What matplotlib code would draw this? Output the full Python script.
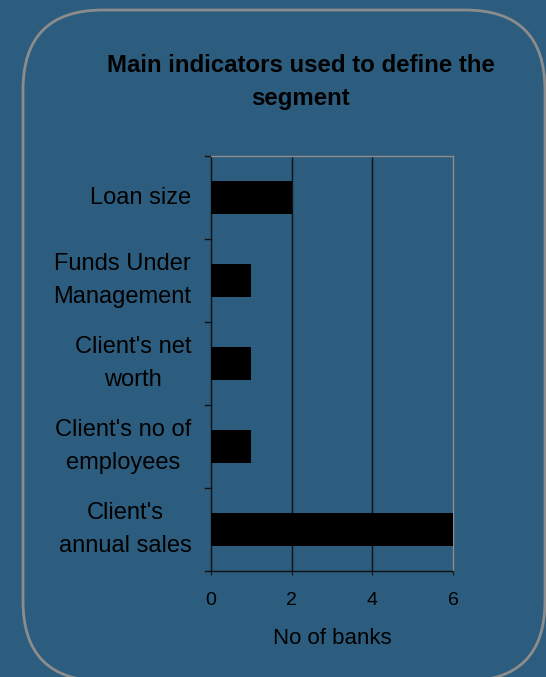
import matplotlib
matplotlib.use("Agg")
import matplotlib.pyplot as plt
from matplotlib.patches import FancyBboxPatch

plt.rcParams["font.family"] = ["Liberation Sans", "DejaVu Sans"]

# number of banks citing each indicator (top to bottom)
categories = ["Loan size", "Funds Under\nManagement", "Client's net\nworth",
              "Client's no of\nemployees", "Client's\nannual sales"]
n_banks = [2, 1, 1, 1, 6]
x_ticks = [0, 2, 4, 6]

BG = "#2d5d7e"
W, H = 546, 677
DPI = 100

fig = plt.figure(figsize=(W / DPI, H / DPI), dpi=DPI, facecolor=BG)

# rounded panel border, laid out in inches so the corners stay circular
px = 1 / DPI
panel = FancyBboxPatch((23 * px, (H - 681) * px), (545 - 23) * px, (681 - 10) * px,
                       boxstyle="round,pad=0,rounding_size=0.8",
                       transform=fig.dpi_scale_trans, facecolor="none",
                       edgecolor="#8c8c8c", lw=2)
fig.patches.append(panel)

ax = fig.add_axes([211 / W, 1 - 571 / H, (453 - 211) / W, (571 - 156) / H])
ax.set_facecolor(BG)

ypos = list(range(len(categories)))
ax.barh(ypos, n_banks, height=0.4, color="black", zorder=3)
ax.set_ylim(len(categories) - 0.5, -0.5)
ax.set_xlim(0, 6)

ax.set_xticks(x_ticks)
ax.set_xticklabels([str(t) for t in x_ticks], fontsize=14)
ax.set_yticks(ypos)
ax.set_yticklabels(categories, fontsize=17, linespacing=1.6, multialignment="center", va="center")
ax.tick_params(axis="y", length=0, pad=14)
ax.tick_params(axis="x", length=6, direction="inout", pad=12, color="#111111")

# category separators on the left spine
for b in [y - 0.5 for y in range(len(categories) + 1)]:
    ax.plot([-0.15, 0], [b, b], color="#111111", lw=1, clip_on=False)

for x in x_ticks[1:-1]:
    ax.axvline(x, color="#111111", lw=1, zorder=1)

ax.spines["top"].set_color("#8c8c8c")
ax.spines["right"].set_color("#8c8c8c")
ax.spines["left"].set_color("#111111")
ax.spines["bottom"].set_color("#111111")
for s in ax.spines.values():
    s.set_linewidth(1)

ax.set_xlabel("No of banks", fontsize=16, labelpad=14)

fig.text(301 / W, 1 - 82 / H, "Main indicators used to define the\nsegment", ha="center", va="center",
         fontsize=17.3, fontweight="bold", linespacing=1.6)

fig.savefig("out.png", dpi=DPI, facecolor=BG)
